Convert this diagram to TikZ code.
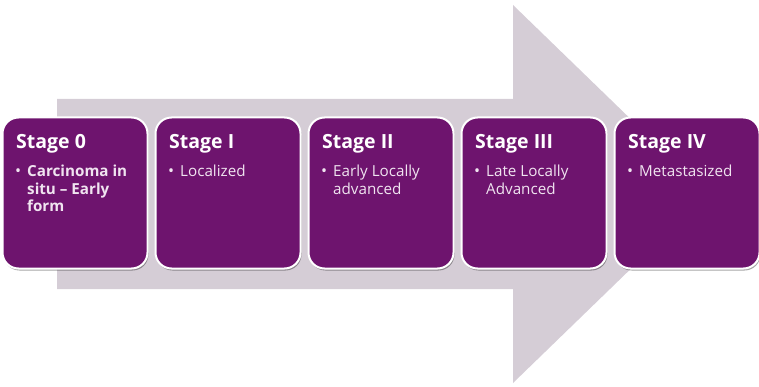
\documentclass[tikz,border=0pt]{standalone}
\usepackage{fontspec}
\setmainfont{Open Sans}
\usetikzlibrary{shadows}
\definecolor{stagepurple}{RGB}{110,20,110}
\definecolor{arrowgrey}{RGB}{213,205,214}
\definecolor{itemwhite}{RGB}{240,228,240}
\begin{document}
\begin{tikzpicture}[x=1pt,y=-1pt,
  stagebox/.style={draw=white, line width=2pt, fill=stagepurple, rounded corners=16pt,
    minimum width=145pt, minimum height=151pt, inner sep=0pt,
    drop shadow={shadow xshift=1pt, shadow yshift=-2pt, opacity=0.35, fill=black}},
  stagetitle/.style={anchor=base west, inner sep=0pt, text=white, font=\fontsize{19.5}{22}\selectfont\bfseries},
  stagebullet/.style={anchor=base west, inner sep=0pt, text=itemwhite, font=\fontsize{16}{17.5}\selectfont},
  stageitem/.style={anchor=base west, inner sep=0pt, text=itemwhite, font=\fontsize{15.2}{17.5}\selectfont}]
\useasboundingbox (0,0) rectangle (759,387);
\fill[arrowgrey] (57,99) -- (513,99) -- (513,5) -- (708,194) -- (513,383) -- (513,289) -- (57,289) -- cycle;
% boxes
\node[stagebox] (s0) at (75,193) {};
\node[stagebox] (s1) at (228,193) {};
\node[stagebox] (s2) at (381,193) {};
\node[stagebox] (s3) at (534,193) {};
\node[stagebox] (s4) at (687,193) {};
% titles
\node[stagetitle] (t0) at (16,149) {Stage 0};
\node[stagetitle] (t1) at (169,149) {Stage I};
\node[stagetitle] (t2) at (322,149) {Stage II};
\node[stagetitle] (t3) at (475,149) {Stage III};
\node[stagetitle] (t4) at (628,149) {Stage IV};
% bullets
\node[stagebullet] (b0) at (15,177) {•};
\node[stagebullet] (b1) at (168,177) {•};
\node[stagebullet] (b2) at (321,177) {•};
\node[stagebullet] (b3) at (474,177) {•};
\node[stagebullet] (b4) at (627,177) {•};
% items
\node[stageitem] (i0) at (27,177) {\parbox[t]{125pt}{\bfseries\raggedright Carcinoma in\\situ – Early\\form}};
\node[stageitem] (i1) at (180,177) {\parbox[t]{125pt}{\raggedright Localized}};
\node[stageitem] (i2) at (333,177) {\parbox[t]{125pt}{\raggedright Early Locally\\advanced}};
\node[stageitem] (i3) at (486,177) {\parbox[t]{125pt}{\raggedright Late Locally\\Advanced}};
\node[stageitem] (i4) at (639,177) {\parbox[t]{125pt}{\raggedright Metastasized}};
\end{tikzpicture}
\end{document}
